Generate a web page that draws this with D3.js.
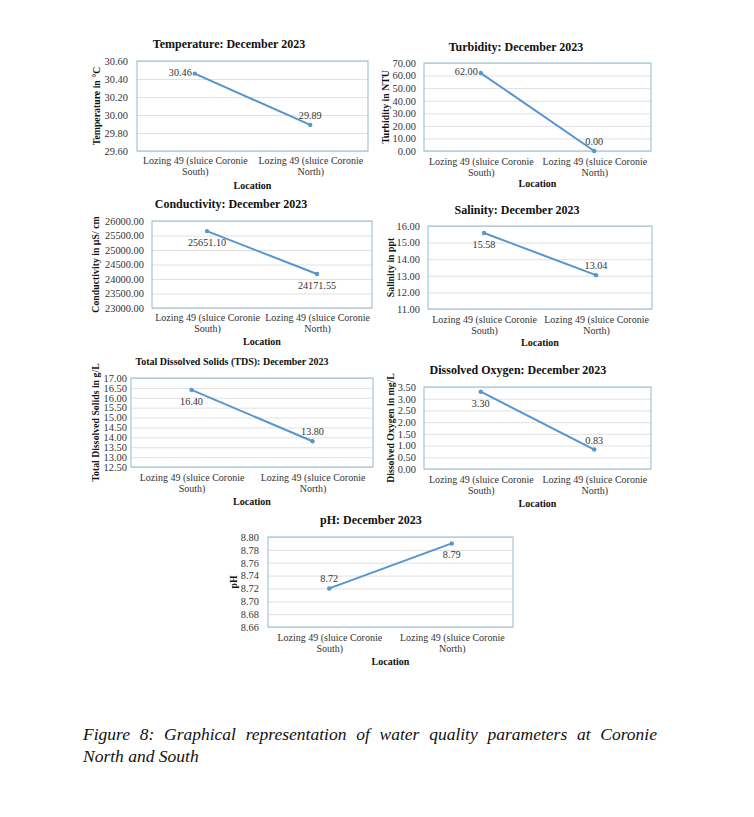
<!DOCTYPE html>
<html><head><meta charset="utf-8">
<script src="https://cdn.jsdelivr.net/npm/d3@7"></script>
<style>body{margin:0;background:#fff}svg{display:block}</style>
</head><body><svg id="c" width="754" height="817"></svg>
<script>
// ---------- data ----------
const categories = [["Lozing 49 (sluice Coronie", "South)"], ["Lozing 49 (sluice Coronie", "North)"]];

const temperatureValues = [30.46, 29.89];
const turbidityValues = [62.00, 0.00];
const conductivityValues = [25651.10, 24171.55];
const salinityValues = [15.58, 13.04];
const tdsValues = [16.40, 13.80];
const oxygenValues = [3.30, 0.83];
const phValues = [8.72, 8.79];

const temperatureTicks = [29.60, 29.80, 30.00, 30.20, 30.40, 30.60];
const turbidityTicks = [0, 10, 20, 30, 40, 50, 60, 70];
const conductivityTicks = [23000, 23500, 24000, 24500, 25000, 25500, 26000];
const salinityTicks = [11, 12, 13, 14, 15, 16];
const tdsTicks = [12.5, 13, 13.5, 14, 14.5, 15, 15.5, 16, 16.5, 17];
const oxygenTicks = [0, 0.5, 1, 1.5, 2, 2.5, 3, 3.5];
const phTicks = [8.66, 8.68, 8.70, 8.72, 8.74, 8.76, 8.78, 8.80];

const chartTitles = ["Temperature: December 2023", "Turbidity: December 2023", "Conductivity: December 2023",
  "Salinity: December 2023", "Total Dissolved Solids (TDS): December 2023", "Dissolved Oxygen: December 2023", "pH: December 2023"];
const yTitles = ["Temperature in \u00B0C", "Turbidity in NTU", "Conductivity in \u00B5S/ cm", "Salinity in ppt",
  "Total Dissolved Solids in g/L", "Dissolved Oxygen in mg/L", "pH"];
const xTitle = "Location";
const captionLines = ["Figure 8: Graphical representation of water quality parameters at Coronie", "North and South"];

// ---------- layout ----------
const panels = [
  {v: temperatureValues, t: temperatureTicks, l:137, tp:61, r:368, b:151, tx:229, ty:48, tfs:12, yx:97, gap:9, cy:164, ly:189, lab:["left","above"]},
  {v: turbidityValues, t: turbidityTicks, l:424, tp:63, r:651, b:151, tx:516, ty:51, tfs:12, yx:386, gap:8, cy:165, ly:187, lab:["left","above"]},
  {v: conductivityValues, t: conductivityTicks, l:152, tp:221, r:372, b:308, tx:231, ty:208, tfs:12, yx:96, gap:8, cy:321, ly:345, lab:["below","below"]},
  {v: salinityValues, t: salinityTicks, l:428, tp:226, r:652, b:309, tx:517, ty:214, tfs:12, yx:391, gap:8, cy:323, ly:346, lab:["below","above"]},
  {v: tdsValues, t: tdsTicks, l:131, tp:378, r:373, b:467, tx:232, ty:365, tfs:10, yx:96, gap:4, cy:481, ly:505, lab:["below","above"]},
  {v: oxygenValues, t: oxygenTicks, l:424, tp:387, r:651, b:469, tx:518, ty:374, tfs:12, yx:391, gap:8, cy:483, ly:507, lab:["below","above"]},
  {v: phValues, t: phTicks, l:268, tp:537, r:513, b:627, tx:371, ty:524, tfs:12, yx:234, gap:9, cy:641, ly:665, lab:["above","below"]}
];

const FONT = "'Liberation Serif','Times New Roman',serif";
const LINE = "#5596d0", BORDER = "#95bacd", GRID = "#d9d9d9";
const TXT = "#333333";
const svg = d3.select("#c");
svg.append("rect").attr("width", 754).attr("height", 817).attr("fill", "#fff");

panels.forEach((p, i) => {
  const g = svg.append("g");
  const x = d3.scalePoint().domain([0, 1]).range([p.l, p.r]).padding(0.5);
  const y = d3.scaleLinear().domain([p.t[0], p.t[p.t.length - 1]]).range([p.b, p.tp]);
  const fmt = d3.format(".2f");

  // gridlines
  const grid = g.append("g").attr("transform", `translate(${p.l},0)`)
    .call(d3.axisLeft(y).tickValues(p.t).tickSize(-(p.r - p.l)).tickFormat(""));
  grid.select(".domain").remove();
  grid.selectAll("line").attr("stroke", GRID).attr("stroke-width", 0.8);

  // y tick labels
  const ya = g.append("g").attr("transform", `translate(${p.l},0)`)
    .call(d3.axisLeft(y).tickValues(p.t).tickSize(0).tickPadding(p.gap).tickFormat(fmt));
  ya.select(".domain").remove();
  ya.selectAll("text").attr("font-family", FONT).attr("font-size", 10.4).attr("fill", TXT);

  // plot border
  g.append("rect").attr("x", p.l).attr("y", p.tp).attr("width", p.r - p.l).attr("height", p.b - p.tp)
    .attr("fill", "none").attr("stroke", BORDER).attr("stroke-width", 1);

  // x category labels
  const xa = g.append("g").attr("transform", `translate(0,${p.b})`)
    .call(d3.axisBottom(x).tickSize(0).tickFormat(""));
  xa.select(".domain").remove();
  xa.selectAll(".tick").each(function(d) {
    const t = d3.select(this).select("text").attr("y", 0).attr("dy", 0)
      .attr("font-family", FONT).attr("font-size", 10).attr("fill", TXT);
    categories[d].forEach((line, k) => {
      t.append("tspan").attr("x", 0).attr("y", p.cy - p.b + k * 10.5).text(line);
    });
  });

  // titles
  g.append("text").attr("x", p.tx).attr("y", p.ty).attr("text-anchor", "middle")
    .attr("font-family", FONT).attr("font-weight", "bold").attr("font-size", p.tfs).attr("fill", "#111").text(chartTitles[i]);
  g.append("text").attr("transform", `translate(${p.yx},${(p.tp + p.b) / 2}) rotate(-90)`).attr("text-anchor", "middle")
    .attr("dy", "0.35em").attr("font-family", FONT).attr("font-weight", "bold").attr("font-size", 9.8).attr("fill", "#111").text(yTitles[i]);
  g.append("text").attr("x", (p.l + p.r) / 2).attr("y", p.ly).attr("text-anchor", "middle")
    .attr("font-family", FONT).attr("font-weight", "bold").attr("font-size", 10).attr("fill", "#111").text(xTitle);

  // series
  const pts = p.v.map((v, k) => [x(k), y(v)]);
  g.append("path").attr("d", d3.line()(pts)).attr("fill", "none").attr("stroke", LINE).attr("stroke-width", 2);
  g.selectAll("circle.m").data(pts).join("circle").attr("cx", d => d[0]).attr("cy", d => d[1]).attr("r", 2.2).attr("fill", LINE);

  // value labels
  p.v.forEach((v, k) => {
    const [px, py] = pts[k];
    const pos = p.lab[k];
    const t = g.append("text").attr("font-family", FONT).attr("font-size", 10.2).attr("fill", TXT).text(fmt(v));
    if (pos === "left") t.attr("x", px - 3).attr("y", py + 2).attr("text-anchor", "end");
    else if (pos === "above") t.attr("x", px).attr("y", py - 6).attr("text-anchor", "middle");
    else t.attr("x", px).attr("y", py + 15).attr("text-anchor", "middle");
  });
});

// caption (line 1 justified)
const capG = svg.append("g").attr("font-family", FONT).attr("font-style", "italic").attr("font-size", 17.5).attr("fill", "#111");
const words = captionLines[0].split(" ");
const wEls = words.map(w => capG.append("text").attr("y", 740).text(w));
const widths = wEls.map(e => e.node().getComputedTextLength());
const x0 = 83, x1 = 657;
const spacing = (x1 - x0 - d3.sum(widths)) / (words.length - 1);
let cx = x0;
wEls.forEach((e, k) => { e.attr("x", cx); cx += widths[k] + spacing; });
capG.append("text").attr("x", x0).attr("y", 762).text(captionLines[1]);
</script>
</body></html>
